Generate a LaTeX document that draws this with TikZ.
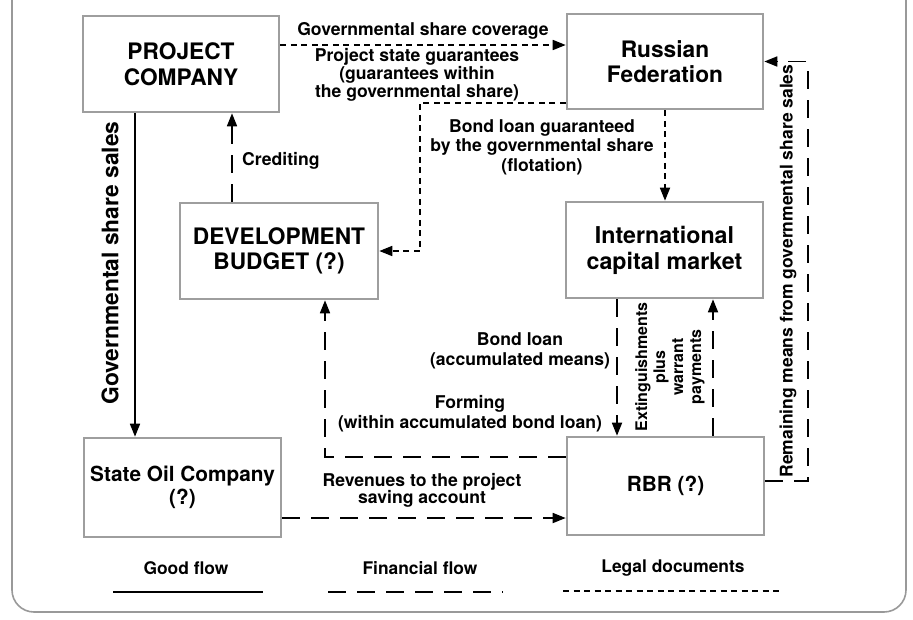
\documentclass[tikz,border=0pt]{standalone}
\usepackage{fontspec}
\setmainfont{TeX Gyre Heros}
\usetikzlibrary{arrows.meta,calc}
\begin{document}
\begin{tikzpicture}[x=1pt,y=-1pt,
  box/.style={draw=black!38, line width=2.6pt, fill=white, inner sep=2pt, align=center,
    font=\fontsize{22.7}{25.5}\selectfont\bfseries, minimum width=196pt, minimum height=96pt},
  lbl/.style={font=\fontsize{17.6}{16.2}\selectfont\bfseries, align=center, inner sep=0pt},
  good/.style={line width=1.7pt},
  fin/.style={line width=1.7pt, dash pattern=on 18pt off 11pt},
  legal/.style={line width=1.7pt, dash pattern=on 6pt off 4.5pt},
  tip/.style={-{Triangle[length=13pt,width=10pt]}},
  frame/.style={draw=black!40, line width=1.6pt, rounded corners=22pt}]
\useasboundingbox (0,0) rectangle (913,619);
\draw[frame] (12,0) -- (12,612) -- (906,612) -- (906,0);

% boxes
\node[box] (pc) at (181,64) {PROJECT\\COMPANY};
\node[box, minimum height=95pt] (rf) at (665,61.5) {Russian\\Federation};
\node[box, minimum width=198pt] (db) at (279,251) {DEVELOPMENT\\BUDGET (?)};
\node[box, minimum width=197pt, font=\fontsize{23.2}{26}\selectfont\bfseries] (icm) at (664.5,250) {International\\capital market};
\node[box, minimum width=197pt, minimum height=99pt, font=\fontsize{20.8}{22.5}\selectfont\bfseries] (soc) at (182.5,487.5) {State Oil Company\\(?)};
\node[box, minimum width=197pt, minimum height=98pt, font=\fontsize{20.8}{22.5}\selectfont\bfseries] (rbr) at (665.5,486) {RBR (?)};

% helper coordinates
\coordinate (c1) at ([yshift=19pt]pc.east);
\coordinate (g1) at ([yshift=-41.5pt]rf.west);
\coordinate (gx) at (420,0);
\coordinate (cx) at (232,0);
\coordinate (sx) at (135,0);
\coordinate (f1) at ([yshift=29pt]rbr.west);
\coordinate (fx) at (325,0);
\coordinate (dx) at (617,0);
\coordinate (ux) at (713,0);
\coordinate (r1) at ([yshift=5pt]rbr.east);
\coordinate (rx) at (808,0);
\coordinate (s1) at ([yshift=-30.5pt]soc.east);

% connectors
\draw[legal,tip] (c1) -- (c1 -| rf.west);
\draw[legal,tip] (g1) -| (gx |- db.east) -- (db.east);
\draw[legal,tip] (rf.south) -- (rf.south |- icm.north);
\draw[fin,tip] (cx |- db.north) -- (cx |- pc.south);
\draw[good,tip] (sx |- pc.south) -- (sx |- soc.north);
\draw[fin,tip] (f1) -| (fx |- db.south);
\draw[fin,tip] (dx |- icm.south) -- (dx |- rbr.north);
\draw[fin,tip] (ux |- rbr.north) -- (ux |- icm.south);
\draw[fin,tip] (r1) -| (rx |- rf.east) -- (rf.east);
\draw[fin,tip] (s1) -- (s1 -| rbr.west);

% labels
\node[lbl] (lcov) at (423,31) {Governmental share coverage};
\node[lbl] (lgua) at (417,75) {Project state guarantees\\(guarantees within\\the governmental share)};
\node[lbl, font=\fontsize{17.6}{19.5}\selectfont\bfseries] (lbond) at (542,147) {Bond loan guaranteed\\by the governmental share\\(flotation)};
\node[lbl, anchor=west] (lcred) at (242,161) {Crediting};
\node[lbl, rotate=90, font=\fontsize{22.8}{24}\selectfont\bfseries] (lgss) at (110,263) {Governmental share sales};
\node[lbl, rotate=90, font=\fontsize{17.5}{19}\selectfont\bfseries] (lrem) at (788,271) {Remaining means from governmental share sales};
\node[lbl, rotate=90, font=\fontsize{16}{18}\selectfont\bfseries] (lext) at (670,367) {Extinguishments\\plus\\warrant\\payments};
\node[lbl, font=\fontsize{17.6}{20}\selectfont\bfseries] (lbl2) at (520,351) {Bond loan\\(accumulated means)};
\node[lbl, font=\fontsize{17.6}{20}\selectfont\bfseries] (lform) at (470,414) {Forming\\(within accumulated bond loan)};
\node[lbl, font=\fontsize{17.6}{17}\selectfont\bfseries] (lrev) at (422,490) {Revenues to the project\\saving account};

% legend
\node[lbl, font=\fontsize{17.4}{19}\selectfont\bfseries] (lg1) at (186,568) {Good flow};
\node[lbl, font=\fontsize{17.4}{19}\selectfont\bfseries] (lg2) at (420,568) {Financial flow};
\node[lbl, font=\fontsize{17.4}{19}\selectfont\bfseries] (lg3) at (673,568) {Legal documents};
\coordinate (a1) at (113,592); \coordinate (a2) at (263,592);
\coordinate (b1) at (328,592); \coordinate (b2) at (503,592);
\coordinate (d1) at (563,591); \coordinate (d2) at (783,591);
\draw[good] (a1) -- (a2);
\draw[fin] (b1) -- (b2);
\draw[legal] (d1) -- (d2);
\end{tikzpicture}
\end{document}
